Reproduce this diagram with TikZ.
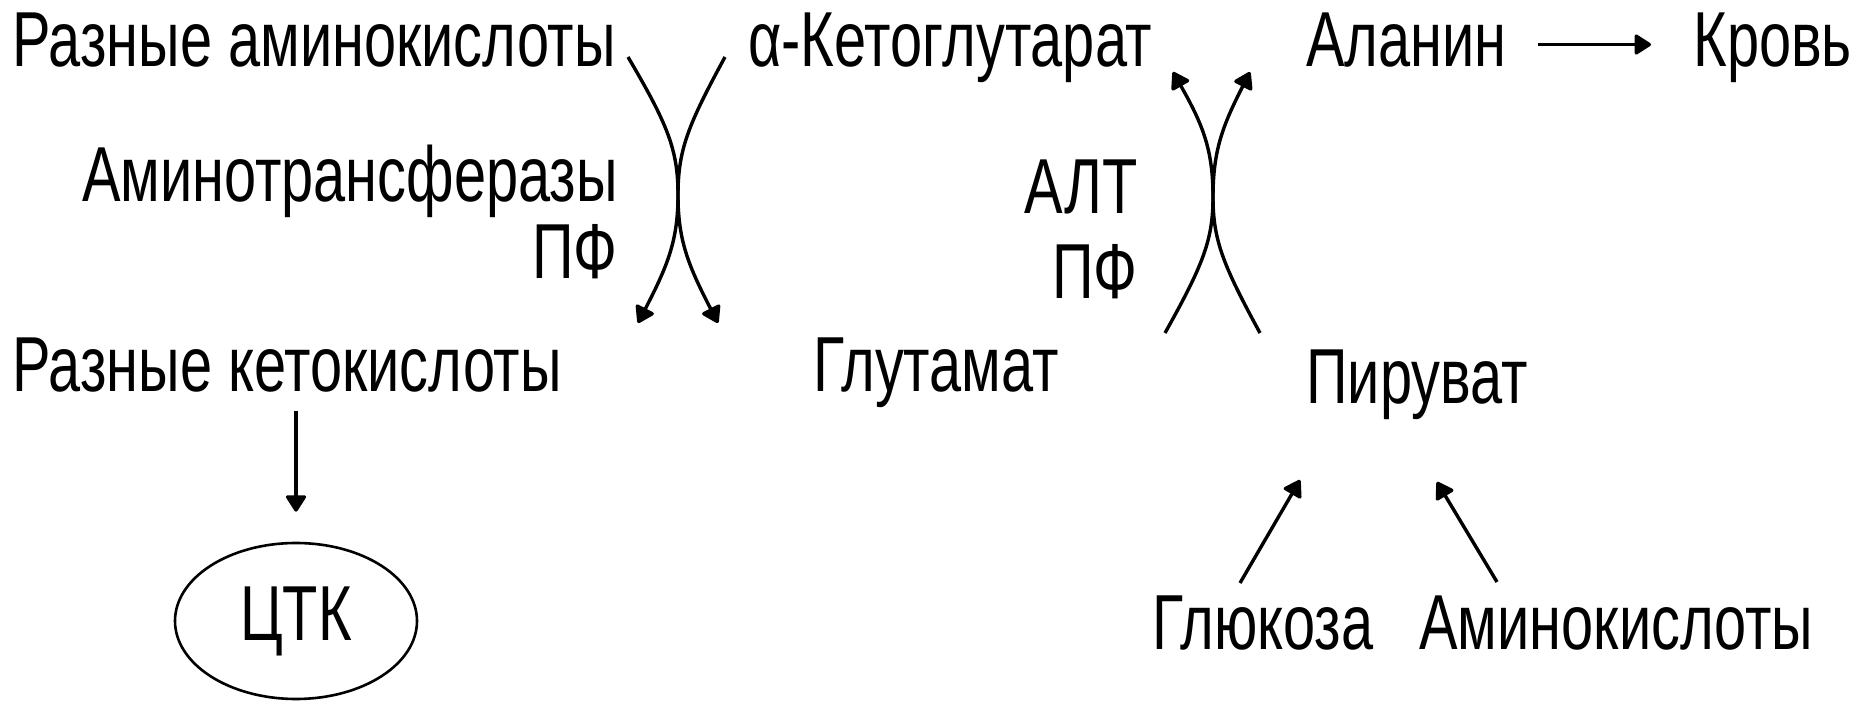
\documentclass[tikz,border=0pt]{standalone}
\usepackage{fontspec}
\setmainfont{Liberation Sans}[FakeStretch=0.74]
\usetikzlibrary{arrows.meta,shapes.geometric}
\begin{document}
\begin{tikzpicture}[x=0.5pt,y=-0.5pt,
  lbl/.style={inner sep=0pt,font=\fontsize{39}{44}\selectfont},
  arr/.style={line width=1.7pt,-{Triangle[round,length=9pt,width=11pt]}}]
\useasboundingbox (0,0) rectangle (1862,704);
% row 1
\node[lbl,anchor=base west] (aa)    at (12,67)   {Разные аминокислоты};
\node[lbl,anchor=base west] (akg)   at (748,67)  {α-Кетоглутарат};
\node[lbl,anchor=base west] (ala)   at (1306,67) {Аланин};
\node[lbl,anchor=base west] (krov)  at (1693,67) {Кровь};
% enzymes
\node[lbl,anchor=base east] (at)    at (618,202) {Аминотрансферазы};
\node[lbl,anchor=base east] (pf1)   at (618,279) {ПФ};
\node[lbl,anchor=base east] (alt)   at (1138,214) {АЛТ};
\node[lbl,anchor=base east] (pf2)   at (1138,299) {ПФ};
% row 2
\node[lbl,anchor=base west] (keto)  at (12,392)  {Разные кетокислоты};
\node[lbl,anchor=base west] (glu)   at (813,392) {Глутамат};
\node[lbl,anchor=base west] (pyr)   at (1306,404) {Пируват};
% bottom
\node[draw,ellipse,line width=1.3pt,minimum width=121pt,minimum height=78pt,inner sep=0pt,
      font=\fontsize{39}{44}\selectfont] (tca) at (296,621) {ЦТК};
\node[lbl,anchor=base west] (gluc)  at (1152,650) {Глюкоза};
\node[lbl,anchor=base west] (amino) at (1419,650) {Аминокислоты};
% coordinates for free ends of the transamination arcs
\coordinate (l1s) at (628,57);
\coordinate (l1e) at (638,323);
\coordinate (lc)  at (678,195);
\coordinate (l2s) at (725,57);
\coordinate (l2e) at (718,323);
\coordinate (r1s) at (1165,333);
\coordinate (r1e) at (1173,72);
\coordinate (rc)  at (1213,197);
\coordinate (r2s) at (1260,333);
\coordinate (r2e) at (1250,72);
\coordinate (gs) at (1240,583);
\coordinate (ge) at (1300,480);
\coordinate (as) at (1497,582);
\coordinate (ae) at (1437,482);
% arcs
\draw[arr] (l1s) .. controls (668,125) and (678,150) .. (lc) .. controls (678,240) and (668,265) .. (l1e);
\draw[arr] (l2s) .. controls (688,125) and (678,150) .. (lc) .. controls (678,240) and (688,265) .. (l2e);
\draw[arr] (r1s) .. controls (1203,265) and (1213,240) .. (rc) .. controls (1213,150) and (1203,125) .. (r1e);
\draw[arr] (r2s) .. controls (1223,265) and (1213,240) .. (rc) .. controls (1213,150) and (1223,125) .. (r2e);
% straight arrows
\draw[arr] ([xshift=15.5pt,yshift=-2pt]ala.east) -- ([xshift=-21pt,yshift=-2pt]ala.east -| krov.west);
\draw[arr] ([yshift=-9pt]tca.north |- keto.south) -- ([yshift=15pt]tca.north);
\draw[arr] (gs) -- (ge);
\draw[arr] (as) -- (ae);
\end{tikzpicture}
\end{document}
